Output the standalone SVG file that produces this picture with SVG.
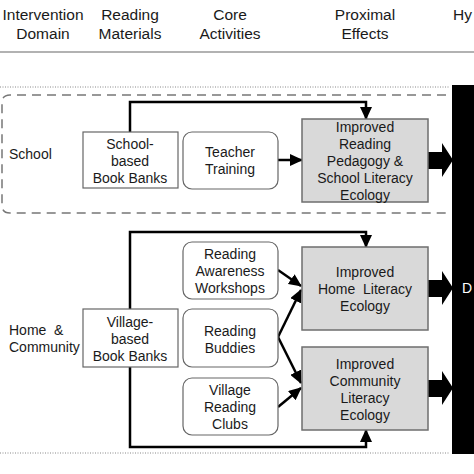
<svg xmlns="http://www.w3.org/2000/svg" width="474" height="474" viewBox="0 0 474 474">
<defs>
<style>
text{font-family:"Liberation Sans",Arial,sans-serif;fill:#1a1a1a;}
.h{font-size:15.5px;text-anchor:middle;}
.t{font-size:14px;text-anchor:middle;}
.l{font-size:14px;}
.box{fill:#fff;stroke:#666;stroke-width:1.2;}
.eff{fill:#d9d9d9;stroke:#6e6e6e;stroke-width:1.5;}
.c{fill:none;stroke:#000;stroke-width:2.5;}
.big{fill:#000;}
</style>
<marker id="ah" viewBox="0 0 13 12" refX="12" refY="6" markerWidth="13" markerHeight="12" orient="auto" markerUnits="userSpaceOnUse">
<path d="M0,0 L13,6 L0,12 Z" fill="#000"/>
</marker>
</defs>
<rect width="474" height="474" fill="#fff"/>
<g id="header">
<text class="h" x="43" y="20">Intervention</text>
<text class="h" x="43" y="39">Domain</text>
<text class="h" x="130" y="20">Reading</text>
<text class="h" x="130" y="39">Materials</text>
<text class="h" x="230" y="20">Core</text>
<text class="h" x="230" y="39">Activities</text>
<text class="h" x="365" y="20">Proximal</text>
<text class="h" x="365" y="39">Effects</text>
<text style="font-size:15.5px" x="453" y="20">Hy</text>
<line x1="0" y1="52" x2="474" y2="52" stroke="#666" stroke-width="1.2"/>
</g>
<g id="frames">
<line x1="0" y1="87" x2="450" y2="87" stroke="#888" stroke-width="1" stroke-dasharray="1,1.5"/>
<line x1="0" y1="453" x2="450" y2="453" stroke="#888" stroke-width="1" stroke-dasharray="1,1.5"/>
<path d="M446,95 H10 Q2,95 2,103 V205 Q2,213 10,213 H446" fill="none" stroke="#777" stroke-width="1.5" stroke-dasharray="9,6"/>
</g>
<g id="bar">
<rect x="452" y="85" width="22" height="369" fill="#000"/>
<text x="462" y="293" style="font-size:14px;fill:#fff">D</text>
</g>
<g id="labels">
<text class="l" x="9" y="159">School</text>
<text class="l" x="9" y="335" style="white-space:pre">Home  &amp;</text>
<text class="l" x="9" y="352">Community</text>
</g>
<g id="connectors">
<path class="c" d="M130,132 V102 H366 V119" marker-end="url(#ah)"/>
<path class="c" d="M278,160 H302" marker-end="url(#ah)"/>
<path class="c" d="M130,310 V232 H366 V247" marker-end="url(#ah)"/>
<path class="c" d="M130,367 V447 H366 V430" marker-end="url(#ah)"/>
<path class="c" d="M278,270 L301,286" marker-end="url(#ah)"/>
<path class="c" d="M278,337 L301,290" marker-end="url(#ah)"/>
<path class="c" d="M278,337 L301,383" marker-end="url(#ah)"/>
<path class="c" d="M278,407 L301,388" marker-end="url(#ah)"/>
<path class="big" d="M428,152 H442 V143 L453,160 L442,177 V169 H428 Z"/>
<path class="big" d="M428,280 H442 V271 L453,288 L442,305 V297 H428 Z"/>
<path class="big" d="M428,380 H442 V371 L453,388 L442,405 V397 H428 Z"/>
</g>
<g id="school-book-banks">
<rect class="box" x="83" y="132" width="95" height="56"/>
<text class="t" x="130" y="149">School-</text>
<text class="t" x="130" y="166">based</text>
<text class="t" x="130" y="183">Book Banks</text>
</g>
<g id="teacher-training">
<rect class="box" x="183" y="132" width="95" height="57" rx="9"/>
<text class="t" x="230" y="157">Teacher</text>
<text class="t" x="230" y="174">Training</text>
</g>
<g id="school-effect">
<rect class="eff" x="302" y="119" width="126" height="83"/>
<text class="t" x="365" y="132">Improved</text>
<text class="t" x="365" y="149">Reading</text>
<text class="t" x="365" y="166">Pedagogy &amp;</text>
<text class="t" x="365" y="183">School Literacy</text>
<text class="t" x="365" y="200">Ecology</text>
</g>
<g id="village-book-banks">
<rect class="box" x="83" y="309" width="95" height="58"/>
<text class="t" x="130" y="327">Village-</text>
<text class="t" x="130" y="344">based</text>
<text class="t" x="130" y="361">Book Banks</text>
</g>
<g id="workshops">
<rect class="box" x="183" y="242" width="95" height="57" rx="9"/>
<text class="t" x="230" y="259">Reading</text>
<text class="t" x="230" y="276">Awareness</text>
<text class="t" x="230" y="293">Workshops</text>
</g>
<g id="buddies">
<rect class="box" x="183" y="309" width="95" height="58" rx="9"/>
<text class="t" x="230" y="336">Reading</text>
<text class="t" x="230" y="353">Buddies</text>
</g>
<g id="clubs">
<rect class="box" x="183" y="378" width="95" height="57" rx="9"/>
<text class="t" x="230" y="395">Village</text>
<text class="t" x="230" y="412">Reading</text>
<text class="t" x="230" y="429">Clubs</text>
</g>
<g id="home-effect">
<rect class="eff" x="302" y="247" width="126" height="83"/>
<text class="t" x="365" y="277">Improved</text>
<text class="t" x="365" y="294" style="white-space:pre">Home  Literacy</text>
<text class="t" x="365" y="311">Ecology</text>
</g>
<g id="community-effect">
<rect class="eff" x="302" y="347" width="126" height="83"/>
<text class="t" x="365" y="369">Improved</text>
<text class="t" x="365" y="386">Community</text>
<text class="t" x="365" y="403">Literacy</text>
<text class="t" x="365" y="420">Ecology</text>
</g>
</svg>
